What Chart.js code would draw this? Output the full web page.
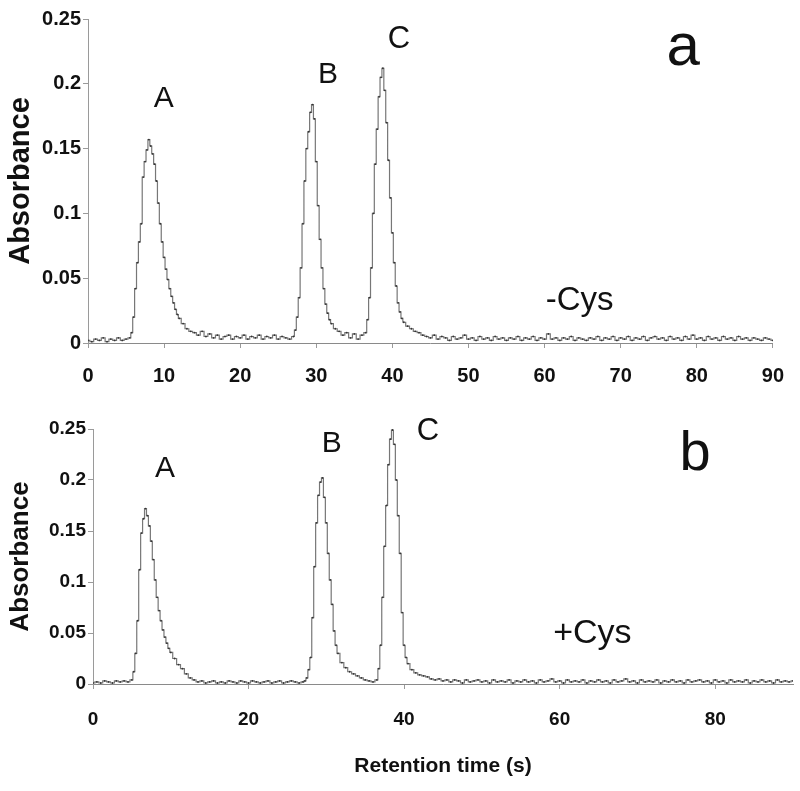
<!DOCTYPE html>
<html>
<head>
<meta charset="utf-8">
<script src="https://cdn.jsdelivr.net/npm/chart.js@4"></script>
<style>
  body { margin: 0; background: #fff; }
  canvas { display: block; }
</style>
</head>
<body>
<canvas id="chartTop" width="800" height="385"></canvas>
<canvas id="chartBottom" width="800" height="406"></canvas>
<script>
// Panel a (-Cys): retention time (s) and absorbance
const topTime = [
  0, 0.5, 1, 1.5, 2, 2.5, 3, 3.5, 4, 4.5, 5, 5.5,
  5.75, 6, 6.25, 6.5, 6.75, 7, 7.25, 7.5, 7.75, 8, 8.25, 8.5, 8.75, 9, 9.25,
  9.5, 9.75, 10, 10.25, 10.5, 10.75, 11, 11.25, 11.5, 11.75, 12, 12.5, 13, 13.5, 14,
  14.5, 15, 15.5, 16, 16.5, 17, 17.5, 18, 18.5, 19, 19.5, 20, 20.5,
  21, 21.5, 22, 22.5, 23, 23.5, 24, 24.5, 25, 25.5, 26, 26.5, 27,
  27.25, 27.5, 27.75, 28, 28.25, 28.5, 28.75, 29, 29.25, 29.5, 29.75, 30, 30.25,
  30.5, 30.75, 31, 31.25, 31.5, 31.75, 32, 32.5, 33, 33.5, 34, 34.5, 35, 35.5, 36, 36.5,
  36.75, 37, 37.25, 37.5, 37.75, 38, 38.25, 38.5, 38.75, 39, 39.25, 39.5, 39.75,
  40, 40.25, 40.5, 40.75, 41, 41.25, 41.5, 42, 42.5, 43, 43.5, 44,
  44.5, 45, 45.5, 46, 46.5, 47, 47.5, 48, 48.5, 49, 49.5, 50,
  50.5, 51, 51.5, 52, 52.5, 53, 53.5, 54, 54.5, 55, 55.5, 56,
  56.5, 57, 57.5, 58, 58.5, 59, 59.5, 60, 60.5, 61, 61.5, 62,
  62.5, 63, 63.5, 64, 64.5, 65, 65.5, 66, 66.5, 67, 67.5, 68,
  68.5, 69, 69.5, 70, 70.5, 71, 71.5, 72, 72.5, 73, 73.5, 74,
  74.5, 75, 75.5, 76, 76.5, 77, 77.5, 78, 78.5, 79, 79.5, 80,
  80.5, 81, 81.5, 82, 82.5, 83, 83.5, 84, 84.5, 85, 85.5, 86,
  86.5, 87, 87.5, 88, 88.5, 89, 89.5, 90
];
const topAbs = [
  0.002, 0.001, 0.003, 0.002, 0.004, 0.001, 0.003, 0.002, 0.004, 0.002, 0.003, 0.004,
  0.008, 0.02, 0.042, 0.062, 0.078, 0.092, 0.128, 0.14, 0.149, 0.157, 0.152, 0.146, 0.138, 0.125, 0.108,
  0.092, 0.078, 0.066, 0.057, 0.049, 0.042, 0.036, 0.031, 0.026, 0.022, 0.019, 0.015, 0.011, 0.009, 0.008,
  0.006, 0.009, 0.005, 0.007, 0.004, 0.006, 0.003, 0.005, 0.006, 0.003, 0.005, 0.004, 0.006,
  0.003, 0.005, 0.004, 0.006, 0.003, 0.005, 0.004, 0.006, 0.003, 0.005, 0.004, 0.003, 0.005,
  0.01, 0.02, 0.035, 0.058, 0.092, 0.125, 0.15, 0.163, 0.178, 0.184, 0.173, 0.14, 0.106,
  0.08, 0.058, 0.042, 0.03, 0.023, 0.018, 0.015, 0.011, 0.009, 0.006, 0.008, 0.004, 0.007, 0.003, 0.006, 0.008,
  0.018, 0.035, 0.058, 0.1, 0.138, 0.165, 0.19, 0.205, 0.212, 0.195, 0.17, 0.141, 0.112,
  0.085, 0.062, 0.044, 0.031, 0.024, 0.019, 0.016, 0.013, 0.011, 0.009, 0.008, 0.006,
  0.005, 0.004, 0.006, 0.003, 0.005, 0.004, 0.002, 0.005, 0.003, 0.004, 0.006, 0.003,
  0.004, 0.002, 0.005, 0.003, 0.004, 0.002, 0.005, 0.003, 0.004, 0.002, 0.004, 0.003,
  0.005, 0.002, 0.004, 0.003, 0.005, 0.002, 0.004, 0.003, 0.007, 0.003, 0.004, 0.002,
  0.004, 0.003, 0.005, 0.002, 0.004, 0.003, 0.002, 0.004, 0.003, 0.005, 0.002, 0.004,
  0.003, 0.005, 0.002, 0.004, 0.003, 0.005, 0.002, 0.004, 0.003, 0.005, 0.002, 0.004,
  0.005, 0.003, 0.004, 0.002, 0.005, 0.003, 0.004, 0.002, 0.005, 0.003, 0.006, 0.003,
  0.004, 0.002, 0.005, 0.003, 0.004, 0.002, 0.005, 0.003, 0.004, 0.002, 0.005, 0.003,
  0.004, 0.002, 0.004, 0.003, 0.002, 0.004, 0.003, 0.002
];

// Panel b (+Cys)
const bottomTime = [
  0, 0.5, 1, 1.5, 2, 2.5, 3, 3.5, 4, 4.5, 5,
  5.25, 5.5, 5.75, 6, 6.25, 6.5, 6.75, 7, 7.25, 7.5, 7.75, 8, 8.25,
  8.5, 8.75, 9, 9.25, 9.5, 9.75, 10, 10.5, 11, 11.5, 12, 12.5, 13,
  13.5, 14, 14.5, 15, 15.5, 16, 16.5, 17, 17.5, 18, 18.5, 19, 19.5, 20,
  20.5, 21, 21.5, 22, 22.5, 23, 23.5, 24, 24.5, 25, 25.5, 26, 26.5, 27, 27.25,
  27.5, 27.75, 28, 28.25, 28.5, 28.75, 29, 29.25, 29.5, 29.75, 30, 30.25, 30.5,
  30.75, 31, 31.25, 31.5, 32, 32.5, 33, 33.5, 34, 34.5, 35, 35.5, 36, 36.5,
  36.75, 37, 37.25, 37.5, 37.75, 38, 38.25, 38.5, 38.75, 39, 39.25, 39.5, 39.75,
  40, 40.25, 40.5, 41, 41.5, 42, 42.5, 43, 43.5, 44,
  44.5, 45, 45.5, 46, 46.5, 47, 47.5, 48, 48.5, 49, 49.5, 50,
  50.5, 51, 51.5, 52, 52.5, 53, 53.5, 54, 54.5, 55, 55.5, 56,
  56.5, 57, 57.5, 58, 58.5, 59, 59.5, 60, 60.5, 61, 61.5, 62,
  62.5, 63, 63.5, 64, 64.5, 65, 65.5, 66, 66.5, 67, 67.5, 68,
  68.5, 69, 69.5, 70, 70.5, 71, 71.5, 72, 72.5, 73, 73.5, 74,
  74.5, 75, 75.5, 76, 76.5, 77, 77.5, 78, 78.5, 79, 79.5, 80,
  80.5, 81, 81.5, 82, 82.5, 83, 83.5, 84, 84.5, 85, 85.5, 86,
  86.5, 87, 87.5, 88, 88.5, 89, 89.5, 90
];
const bottomAbs = [
  0.001, 0.002, 0.001, 0.003, 0.002, 0.001, 0.003, 0.002, 0.003, 0.002, 0.004,
  0.012, 0.03, 0.062, 0.112, 0.148, 0.162, 0.172, 0.165, 0.155, 0.14, 0.122, 0.102, 0.085,
  0.072, 0.062, 0.053, 0.046, 0.04, 0.035, 0.031, 0.025, 0.019, 0.015, 0.01, 0.006, 0.004,
  0.002, 0.003, 0.001, 0.002, 0.003, 0.001, 0.002, 0.001, 0.003, 0.002, 0.001, 0.003, 0.002, 0.001,
  0.003, 0.002, 0.001, 0.002, 0.003, 0.001, 0.002, 0.003, 0.001, 0.002, 0.003, 0.002, 0.001, 0.002, 0.003,
  0.006, 0.014, 0.026, 0.065, 0.115, 0.158, 0.185, 0.198, 0.202, 0.183, 0.158, 0.128, 0.102,
  0.078, 0.052, 0.038, 0.03, 0.021, 0.016, 0.012, 0.01, 0.008, 0.006, 0.004, 0.003, 0.002, 0.004,
  0.015, 0.038, 0.085, 0.135, 0.175, 0.215, 0.24, 0.249, 0.235, 0.2, 0.165, 0.128, 0.07,
  0.038, 0.026, 0.02, 0.014, 0.011, 0.009, 0.008, 0.007, 0.005, 0.004,
  0.005, 0.003, 0.004, 0.002, 0.004, 0.003, 0.001, 0.004, 0.002, 0.003, 0.004, 0.002,
  0.003, 0.001, 0.004, 0.002, 0.003, 0.002, 0.004, 0.001, 0.003, 0.002, 0.004, 0.002,
  0.003, 0.001, 0.004, 0.002, 0.003, 0.005, 0.002, 0.003, 0.001, 0.004, 0.002, 0.003,
  0.002, 0.004, 0.001, 0.003, 0.002, 0.004, 0.002, 0.003, 0.001, 0.004, 0.002, 0.003,
  0.005, 0.002, 0.003, 0.001, 0.004, 0.002, 0.003, 0.002, 0.004, 0.001, 0.003, 0.002,
  0.004, 0.002, 0.003, 0.001, 0.004, 0.002, 0.003, 0.004, 0.002, 0.003, 0.001, 0.004,
  0.002, 0.003, 0.001, 0.004, 0.002, 0.003, 0.002, 0.004, 0.001, 0.003, 0.002, 0.004,
  0.002, 0.003, 0.001, 0.004, 0.002, 0.003, 0.002, 0.003
];

// tick labels
const absTicks = [0, 0.05, 0.1, 0.15, 0.2, 0.25];
const topTimeTicks = [0, 10, 20, 30, 40, 50, 60, 70, 80, 90];
const bottomTimeTicks = [0, 20, 40, 60, 80];

// text written on the panels: peak names, panel letter, condition
const topNotes = ["A", "B", "C", "a", "-Cys"];
const bottomNotes = ["A", "B", "C", "b", "+Cys"];

const FONT = "'Liberation Sans', Arial, sans-serif";

// draws the notes at value positions on the chart's own scales
const notesPlugin = {
  id: "notes",
  afterDatasetsDraw(chart, args, opts) {
    const { ctx, scales } = chart;
    ctx.save();
    ctx.fillStyle = "#111";
    ctx.textAlign = "center";
    ctx.textBaseline = "alphabetic";
    opts.items.forEach(item => {
      ctx.font = item.font;
      ctx.fillText(item.text, scales.x.getPixelForValue(item.t), scales.y.getPixelForValue(item.a));
    });
    ctx.restore();
  }
};

function makeChart(id, time, abs, timeTicks, cfg) {
  const ctx = document.getElementById(id).getContext("2d");
  return new Chart(ctx, {
    type: "line",
    data: {
      datasets: [{
        data: time.map((t, i) => ({ x: t, y: abs[i] })),
        borderColor: "#777",
        borderWidth: 1.2,
        stepped: "middle",
        pointRadius: 0.9,
        pointBackgroundColor: "#333",
        pointBorderWidth: 0
      }]
    },
    options: {
      responsive: false,
      animation: false,
      layout: { padding: cfg.padding },
      plugins: {
        legend: { display: false },
        tooltip: { enabled: false },
        notes: { items: cfg.notes }
      },
      scales: {
        x: {
          type: "linear",
          min: 0,
          max: 90,
          afterBuildTicks: s => { s.ticks = timeTicks.map(v => ({ value: v })); },
          afterFit: s => { s.height = cfg.xHeight; },
          ticks: {
            color: "#111",
            font: { family: FONT, size: cfg.tickSize, weight: "bold" },
            padding: cfg.xTickPad,
            maxRotation: 0
          },
          grid: { drawOnChartArea: false, drawTicks: true, tickLength: 5, color: "#9a9a9a" },
          border: { color: "#8a8a8a", width: 1 },
          title: cfg.xTitle
        },
        y: {
          min: 0,
          max: 0.25,
          afterBuildTicks: s => { s.ticks = absTicks.map(v => ({ value: v })); },
          afterFit: s => { s.width = cfg.yWidth; },
          ticks: {
            color: "#111",
            font: { family: FONT, size: cfg.tickSize, weight: "bold" },
            padding: 2,
            callback: v => String(+v.toFixed(2))
          },
          grid: { drawOnChartArea: false, drawTicks: true, tickLength: 5, color: "#9a9a9a" },
          border: { color: "#9a9a9a", width: 1 },
          title: {
            display: true,
            text: "Absorbance",
            color: "#111",
            font: { family: FONT, size: cfg.yTitleSize, weight: "bold", lineHeight: 1 },
            padding: { top: cfg.yTitlePad, bottom: 0 }
          }
        }
      }
    },
    plugins: [notesPlugin]
  });
}

makeChart("chartTop", topTime, topAbs, topTimeTicks, {
  padding: { top: 19, right: 16, left: 0, bottom: 0 },
  xHeight: 42,
  yWidth: 88,
  tickSize: 20,
  xTickPad: 16,
  yTitleSize: 29,
  yTitlePad: 6,
  xTitle: { display: false },
  notes: [
    { text: topNotes[0], t: 9.96, a: 0.182, font: "30px " + FONT },
    { text: topNotes[1], t: 31.55, a: 0.201, font: "30px " + FONT },
    { text: topNotes[2], t: 40.86, a: 0.228, font: "31px " + FONT },
    { text: topNotes[3], t: 78.2, a: 0.2145, font: "60px " + FONT },
    { text: topNotes[4], t: 64.6, a: 0.0255, font: "33px " + FONT }
  ]
});

makeChart("chartBottom", bottomTime, bottomAbs, bottomTimeTicks, {
  padding: { top: 44, right: 7, left: 0, bottom: 0 },
  xHeight: 107,
  yWidth: 93,
  tickSize: 19,
  xTickPad: 19,
  yTitleSize: 26,
  yTitlePad: 8,
  xTitle: {
    display: true,
    text: "Retention time (s)",
    color: "#111",
    font: { family: FONT, size: 21, weight: "bold", lineHeight: 1 },
    padding: { top: 0, bottom: 14 }
  },
  notes: [
    { text: bottomNotes[0], t: 9.25, a: 0.203, font: "30px " + FONT },
    { text: bottomNotes[1], t: 30.7, a: 0.227, font: "30px " + FONT },
    { text: bottomNotes[2], t: 43.06, a: 0.239, font: "31px " + FONT },
    { text: bottomNotes[3], t: 77.4, a: 0.21, font: "56px " + FONT },
    { text: bottomNotes[4], t: 64.2, a: 0.04, font: "34px " + FONT }
  ]
});
</script>
</body>
</html>
